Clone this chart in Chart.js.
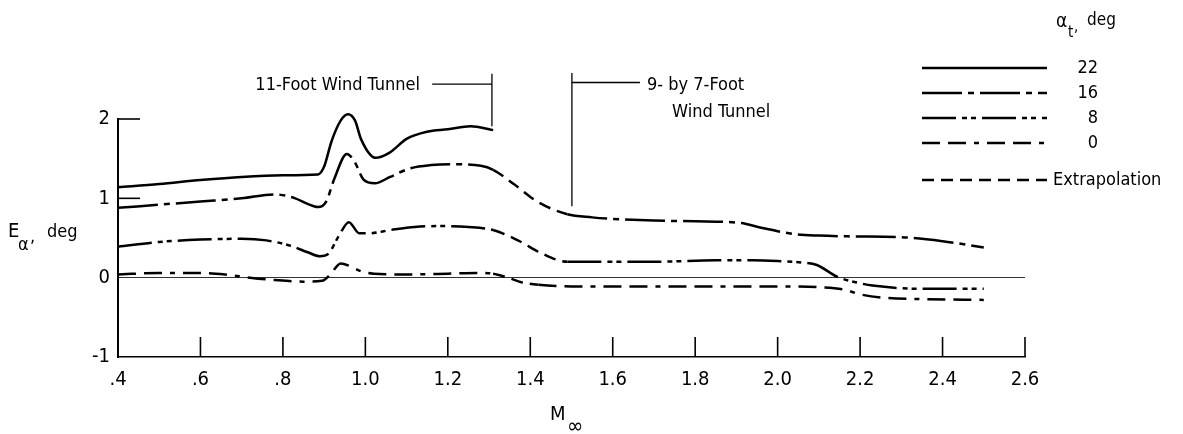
<!DOCTYPE html>
<html>
<head>
<meta charset="utf-8">
<script src="https://cdn.jsdelivr.net/npm/chart.js@4.4.1/dist/chart.umd.min.js"></script>
<style>
  html, body { margin: 0; padding: 0; background: #fff; }
  #wrap { width: 1183px; height: 434px; }
</style>
</head>
<body>
<div id="wrap"><canvas id="chart" width="1183" height="434"></canvas></div>
<script>
const FONT = '"DejaVu Sans Condensed", "Liberation Sans Narrow", sans-serif';

// axis ticks
const machTicks = [0.4, 0.6, 0.8, 1.0, 1.2, 1.4, 1.6, 1.8, 2.0, 2.2, 2.4, 2.6];
const eTicks = [-1, 0, 1, 2];

// alpha_t = 22 deg (11-ft tunnel only)
const mach22 = [0.40, 0.50, 0.60, 0.70, 0.80, 0.885, 0.90, 0.918, 0.94, 0.958, 0.975, 0.99, 1.025, 1.06, 1.10, 1.15, 1.20, 1.255, 1.31];
const e22 = [1.14, 1.18, 1.23, 1.27, 1.29, 1.30, 1.40, 1.72, 1.98, 2.06, 1.98, 1.74, 1.51, 1.58, 1.75, 1.84, 1.87, 1.91, 1.86];

// alpha_t = 16 deg
const mach16 = [0.40, 0.50, 0.60, 0.70, 0.78, 0.83, 0.86, 0.885, 0.905, 0.925, 0.955, 0.975, 0.995, 1.023, 1.06, 1.11, 1.16, 1.21, 1.28, 1.31, 1.36, 1.42, 1.49, 1.55, 1.60, 1.70, 1.80, 1.91, 1.96, 2.04, 2.10, 2.18, 2.30, 2.40, 2.50];
const e16 = [0.88, 0.92, 0.96, 1.00, 1.05, 1.00, 0.93, 0.89, 0.96, 1.25, 1.56, 1.45, 1.24, 1.19, 1.27, 1.38, 1.42, 1.43, 1.41, 1.36, 1.18, 0.95, 0.80, 0.76, 0.74, 0.72, 0.71, 0.69, 0.63, 0.55, 0.53, 0.52, 0.51, 0.46, 0.38];

// alpha_t = 8 deg
const mach8 = [0.40, 0.50, 0.60, 0.70, 0.76, 0.82, 0.86, 0.89, 0.91, 0.935, 0.96, 0.985, 1.01, 1.06, 1.12, 1.18, 1.25, 1.31, 1.37, 1.43, 1.49, 1.55, 1.70, 1.85, 1.94, 2.00, 2.06, 2.095, 2.145, 2.20, 2.23, 2.35, 2.50];
const e8 = [0.39, 0.45, 0.48, 0.49, 0.47, 0.40, 0.32, 0.27, 0.30, 0.52, 0.70, 0.56, 0.56, 0.60, 0.64, 0.65, 0.64, 0.60, 0.47, 0.30, 0.20, 0.20, 0.20, 0.22, 0.22, 0.21, 0.19, 0.16, 0.01, -0.07, -0.10, -0.14, -0.14];

// alpha_t = 0 deg
const mach0 = [0.40, 0.50, 0.60, 0.66, 0.72, 0.78, 0.85, 0.895, 0.915, 0.94, 0.965, 0.99, 1.02, 1.10, 1.20, 1.27, 1.31, 1.345, 1.38, 1.42, 1.50, 1.70, 1.90, 2.00, 2.10, 2.16, 2.20, 2.25, 2.35, 2.50];
const e0 = [0.04, 0.06, 0.06, 0.04, 0.00, -0.03, -0.05, -0.04, 0.04, 0.18, 0.14, 0.08, 0.05, 0.04, 0.05, 0.06, 0.05, 0.00, -0.06, -0.09, -0.11, -0.11, -0.11, -0.11, -0.12, -0.15, -0.21, -0.25, -0.27, -0.28];

// Mach range bridged by extrapolation between the two tunnels
const extrap16 = [1.31, 1.49];
const extrap8 = [1.31, 1.49];
const extrap0 = [1.31, 1.42];

const legendLabels = ["22", "16", "8", "0", "Extrapolation"];

const DASH_16 = [40, 6, 6, 6];
const DASH_8 = [34, 6, 5, 4, 5, 6];
const DASH_0 = [18, 8, 18, 8, 5, 8];
const DASH_EXTRAP = [12, 7];

const toPoints = (xs, ys) => xs.map((m, i) => ({ x: m, y: ys[i] }));

const makeSeries = (label, xs, ys, dash, extrap) => ({
  label: label,
  data: toPoints(xs, ys),
  borderColor: "#000",
  borderWidth: 2.5,
  borderDash: dash,
  pointRadius: 0,
  showLine: true,
  fill: false,
  clip: false,
  cubicInterpolationMode: "monotone",
  segment: {
    borderDash: (ctx) => {
      if (!extrap) return undefined;
      const a = ctx.p0.parsed.x, b = ctx.p1.parsed.x;
      return a >= extrap[0] - 1e-9 && b <= extrap[1] + 1e-9 ? DASH_EXTRAP : undefined;
    },
  },
});

const line = (ctx, x1, y1, x2, y2) => {
  ctx.beginPath();
  ctx.moveTo(x1, y1);
  ctx.lineTo(x2, y2);
  ctx.stroke();
};

// ticks inside the frame, tunnel brackets, titles and the legend
const decorations = {
  id: "decorations",
  afterDraw(chart) {
    const { ctx, chartArea, scales } = chart;
    const x = scales.x, y = scales.y;
    const px = (m) => x.getPixelForValue(m);
    const py = (e) => y.getPixelForValue(e);
    ctx.save();
    ctx.strokeStyle = "#000";
    ctx.fillStyle = "#000";
    ctx.setLineDash([]);

    ctx.lineWidth = 1.6;
    machTicks.slice(1).forEach((m) => line(ctx, px(m), chartArea.bottom, px(m), chartArea.bottom - 20));
    [1, 2].forEach((e) => line(ctx, chartArea.left, py(e), chartArea.left + 22, py(e)));

    // tunnel brackets
    ctx.lineWidth = 1.3;
    line(ctx, px(1.162), py(2.44), px(1.307), py(2.44));
    line(ctx, px(1.307), py(2.57), px(1.307), py(1.91));
    line(ctx, px(1.501), py(2.58), px(1.501), py(0.90));
    line(ctx, px(1.501), py(2.46), px(1.666), py(2.46));

    ctx.font = "18px " + FONT;
    ctx.textBaseline = "middle";
    ctx.textAlign = "right";
    ctx.fillText("11-Foot Wind Tunnel", px(1.1325), py(2.43));
    ctx.textAlign = "left";
    ctx.fillText("9- by 7-Foot", px(1.683), py(2.42));
    ctx.fillText("Wind Tunnel", px(1.744), py(2.08));

    // axis titles
    ctx.textBaseline = "alphabetic";
    ctx.font = "20px " + FONT;
    ctx.fillText("E", 8, 237);
    ctx.font = "18px " + FONT;
    ctx.fillText("\u03b1", 18, 250);
    ctx.fillText(",", 30, 242);
    ctx.fillText("deg", 47, 237);

    ctx.font = "20px " + FONT;
    ctx.fillText("M", 550, 420);
    ctx.font = "22px " + FONT;
    ctx.fillText("\u221e", 567, 433);

    // legend
    ctx.font = "19px " + FONT;
    ctx.fillText("\u03b1", 1056, 27);
    ctx.font = "15px " + FONT;
    ctx.fillText("t", 1068, 37);
    ctx.fillText(",", 1074, 31);
    ctx.font = "17px " + FONT;
    ctx.fillText("deg", 1087, 25);

    const dashes = [[], DASH_16, DASH_8, DASH_0, DASH_EXTRAP];
    const rowsY = [68, 93, 118, 143, 180];
    ctx.lineWidth = 2.5;
    ctx.font = "18px " + FONT;
    ctx.textBaseline = "middle";
    legendLabels.forEach((lab, i) => {
      ctx.setLineDash(dashes[i]);
      line(ctx, 922, rowsY[i], 1047, rowsY[i]);
      ctx.setLineDash([]);
      if (i < 4) {
        ctx.textAlign = "right";
        ctx.fillText(lab, 1098, rowsY[i]);
      } else {
        ctx.textAlign = "left";
        ctx.fillText(lab, 1053, rowsY[i]);
      }
    });
    ctx.restore();
  },
};

new Chart(document.getElementById("chart").getContext("2d"), {
  type: "scatter",
  data: {
    datasets: [
      makeSeries("22", mach22, e22, [], null),
      makeSeries("16", mach16, e16, DASH_16, extrap16),
      makeSeries("8", mach8, e8, DASH_8, extrap8),
      makeSeries("0", mach0, e0, DASH_0, extrap0),
    ],
  },
  options: {
    responsive: false,
    animation: false,
    layout: { padding: { left: 0, right: 158, top: 119, bottom: 0 } },
    plugins: { legend: { display: false }, tooltip: { enabled: false } },
    scales: {
      x: {
        type: "linear",
        min: 0.4,
        max: 2.6,
        afterFit: (s) => { s.height = 77; },
        afterBuildTicks: (s) => { s.ticks = machTicks.map((v) => ({ value: v })); },
        ticks: {
          color: "#000",
          padding: 11,
          maxRotation: 0,
          font: { family: FONT, size: 20 },
          callback: (v) => (v < 1 ? "." + Math.round(v * 10) : Number(v).toFixed(1)),
        },
        grid: { display: false, drawTicks: false },
        border: { display: true, color: "#000", width: 1.5 },
      },
      y: {
        type: "linear",
        min: -1,
        max: 2,
        afterFit: (s) => { s.width = 118; },
        afterBuildTicks: (s) => { s.ticks = eTicks.map((v) => ({ value: v })); },
        ticks: {
          color: "#000",
          padding: 8,
          font: { family: FONT, size: 20 },
          callback: (v) => String(v),
        },
        grid: {
          drawTicks: false,
          lineWidth: 1,
          color: (c) => (c.tick && c.tick.value === 0 ? "#333" : "rgba(0,0,0,0)"),
        },
        border: { display: true, color: "#000", width: 2 },
      },
    },
  },
  plugins: [decorations],
});
</script>
</body>
</html>
